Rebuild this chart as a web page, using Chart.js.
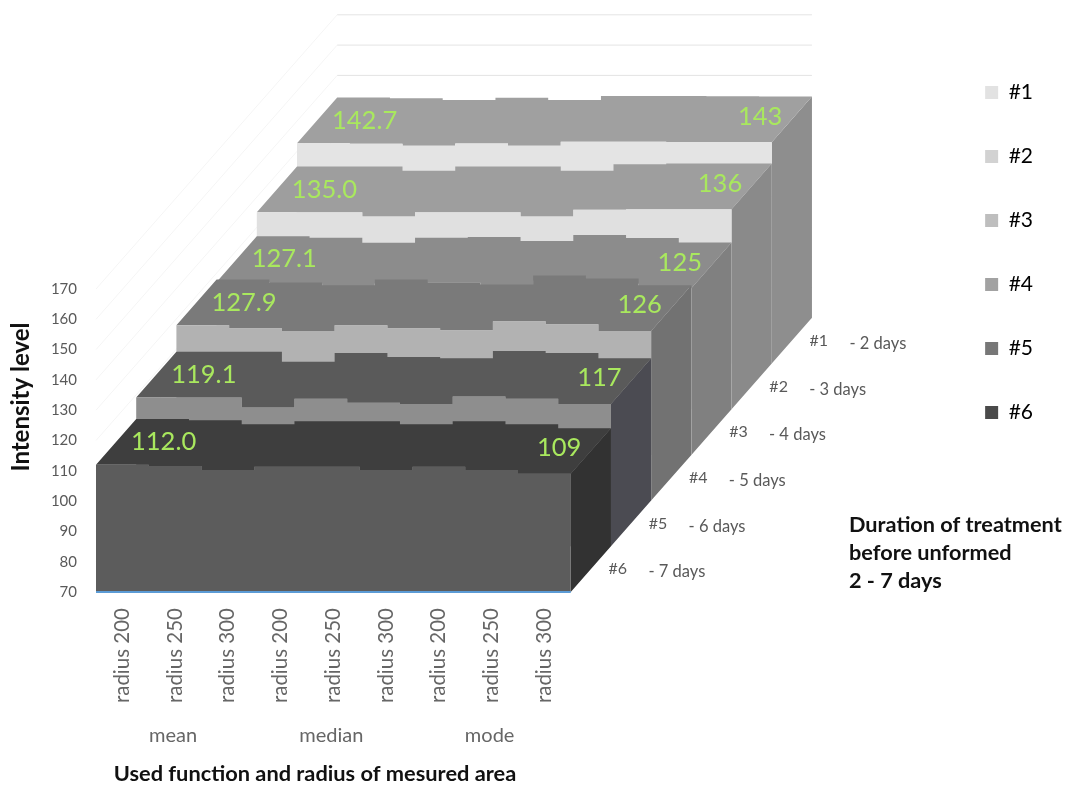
<!DOCTYPE html>
<html>
<head>
<meta charset="utf-8">
<title>Intensity level</title>
<script src="https://cdn.jsdelivr.net/npm/chart.js@4/dist/chart.umd.js"></script>
<style>
    body { margin: 0; background: #fff; }
    canvas { display: block; }
</style>
</head>
<body>
<canvas id="intensity-chart" width="1070" height="787"></canvas>
<script>
const categories = ['radius 200', 'radius 250', 'radius 300', 'radius 200', 'radius 250', 'radius 300', 'radius 200', 'radius 250', 'radius 300'];
const functionNames = ['mean', 'median', 'mode'];
const yTicks = [70, 80, 90, 100, 110, 120, 130, 140, 150, 160, 170];
const seriesNames = ['#1', '#2', '#3', '#4', '#5', '#6'];
const dayLabels = ['- 2 days', '- 3 days', '- 4 days', '- 5 days', '- 6 days', '- 7 days'];

const series1 = [142.7, 142.5, 141.9, 142.6, 141.9, 143.2, 143.2, 143.1, 143];
const series2 = [135.0, 135.0, 133.6, 135.0, 135.0, 133.6, 135.8, 136, 136];
const series3 = [127.1, 126.6, 124.9, 126.6, 126.8, 125.5, 127.5, 126.5, 125];
const series4 = [127.9, 126.9, 126.0, 127.9, 126.9, 126.2, 129.2, 128.2, 126];
const series5 = [119.1, 119.1, 115.8, 118.7, 117.4, 117.0, 119.4, 118.7, 117];
const series6 = [112.0, 111.6, 110.3, 111.3, 111.3, 110.3, 111.3, 110.3, 109];
const allSeries = [series1, series2, series3, series4, series5, series6];

const firstLabels = ['142.7', '135.0', '127.1', '127.9', '119.1', '112.0'];
const lastLabels = ['143', '136', '125', '126', '117', '109'];

const frontColors = ['#e4e4e4', '#e0e0e0', '#d8d8d8', '#b2b2b2', '#8e8e8e', '#5c5c5c'];
const topColors = ['#a0a0a0', '#9e9e9e', '#8c8c8c', '#7a7a7a', '#5a5a5a', '#3e3e3e'];
const sideColors = ['#8e8e8e', '#8a8a8a', '#808080', '#727272', '#4b4b52', '#323232'];
const legendColors = ['#e2e2e2', '#d2d2d2', '#bebebe', '#a2a2a2', '#777777', '#4a4a4a'];

// oblique projection: each series sits one slab deeper, shifted right and up
const CAT_PX = 52.75;
const UNIT_PX = 3.03;
const DEPTH_X = 40.2 / CAT_PX;
const DEPTH_Y = 45.7 / UNIT_PX;
const BASE = yTicks[0];
const DEPTHS = allSeries.length;

function project(cat, depth, value) {
    return { x: cat + depth * DEPTH_X, y: value + depth * DEPTH_Y };
}

// stepped top edge, one flat run per category
function stepEdge(values, depth) {
    const pts = [];
    values.forEach((v, i) => {
        pts.push(project(i, depth, v), project(i + 1, depth, v));
    });
    return pts;
}

function polygon(points, color) {
    return { data: points, backgroundColor: color, fill: 'shape', borderWidth: 0, showLine: true, pointRadius: 0 };
}

function wireLine(points, color, width) {
    return { data: points, borderColor: color, borderWidth: width, fill: false, showLine: true, pointRadius: 0, clip: false };
}

const datasets = [];

// back wall and side wall lines
yTicks.forEach(t => {
    datasets.push(wireLine([project(0, 0, t), project(0, DEPTHS, t)], '#f5f5f5', 1));
    datasets.push(wireLine([project(0, DEPTHS, t), project(categories.length, DEPTHS, t)], '#e4e4e4', 1));
});

// slabs from the back one to the front one
allSeries.forEach((values, s) => {
    const depth = DEPTHS - 1 - s;
    const n = categories.length;
    const last = values[n - 1];
    datasets.push(polygon([
        project(n, depth, last), project(n, depth + 1, last),
        project(n, depth + 1, BASE), project(n, depth, BASE)
    ], sideColors[s]));
    datasets.push(polygon(stepEdge(values, depth).concat(stepEdge(values, depth + 1).reverse()), topColors[s]));
    datasets.push(polygon([project(0, depth, BASE)].concat(stepEdge(values, depth), [project(n, depth, BASE)]), frontColors[s]));
});

// axis line along the front of the floor
datasets.push(wireLine([project(0, 0, BASE), project(categories.length, 0, BASE)], '#5b9bd5', 2));

datasets.forEach((d, i) => { d.order = datasets.length - i; });

const textPlugin = {
    id: 'chartText',
    afterDraw(chart) {
        const ctx = chart.ctx;
        const xs = chart.scales.x;
        const ys = chart.scales.y;
        const put = (text, x, y, font, color, align) => {
            ctx.font = font;
            ctx.fillStyle = color;
            ctx.textAlign = align || 'center';
            ctx.textBaseline = 'middle';
            ctx.fillText(text, x, y);
        };
        const px = p => [xs.getPixelForValue(p.x), ys.getPixelForValue(p.y)];

        ctx.save();
        // value labels lying on the slab tops
        allSeries.forEach((values, s) => {
            const depth = DEPTHS - 1 - s + 0.5;
            const a = px(project(0.92, depth, values[0]));
            const b = px(project(8.4, depth, values[values.length - 1]));
            put(firstLabels[s], a[0] - 1, a[1], '25.5px Lato', '#a9e85e');
            put(lastLabels[s], b[0], b[1] - 3, '25.5px Lato', '#a9e85e');

            // depth axis labels along the floor edge
            const f = px(project(categories.length, depth, BASE));
            put(seriesNames[s], f[0] + 27, f[1], '16px Lato', '#595959');
            put(dayLabels[s], f[0] + 86, f[1] + 3, '16.5px Lato', '#595959');
        });

        // function groups under the radius ticks
        functionNames.forEach((name, i) => {
            put(name, xs.getPixelForValue(1.5 + i * 3) - 2, 736, '20px Lato', '#666666');
        });

        put('Used function and radius of mesured area', 315, 774, 'bold 21.8px Lato', '#111111');
        put('Duration of treatment', 849, 525, 'bold 21.7px Lato', '#111111', 'left');
        put('before unformed', 849, 553, 'bold 21.7px Lato', '#111111', 'left');
        put('2 - 7 days', 849, 581, 'bold 21.7px Lato', '#111111', 'left');

        ctx.translate(21, 397);
        ctx.rotate(-Math.PI / 2);
        put('Intensity level', 0, 0, 'bold 24px Lato', '#111111');
        ctx.restore();
    }
};

new Chart(document.getElementById('intensity-chart').getContext('2d'), {
    type: 'scatter',
    data: { datasets: datasets },
    plugins: [textPlugin],
    options: {
        responsive: false,
        animation: false,
        events: [],
        layout: { padding: { top: 39, right: 27 } },
        plugins: {
            tooltip: { enabled: false },
            legend: {
                position: 'right',
                align: 'start',
                labels: {
                    boxWidth: 13,
                    boxHeight: 13,
                    padding: 43,
                    color: '#595959',
                    font: { family: 'Lato', size: 21 },
                    generateLabels: () => seriesNames.map((name, i) => ({
                        text: name,
                        fillStyle: legendColors[i],
                        strokeStyle: legendColors[i],
                        lineWidth: 0,
                        hidden: false,
                        datasetIndex: 0
                    }))
                }
            }
        },
        scales: {
            x: {
                type: 'linear',
                bounds: 'data',
                min: 0,
                afterDataLimits(scale) { scale.max = scale.width / CAT_PX; },
                afterBuildTicks(scale) { scale.ticks = categories.map((_, i) => ({ value: i + 0.5 })); },
                afterFit(scale) { scale.height = 195; },
                grid: { display: false },
                border: { display: false },
                ticks: {
                    autoSkip: false,
                    minRotation: 90,
                    maxRotation: 90,
                    padding: 8,
                    color: '#666666',
                    font: { family: 'Lato', size: 20.5 },
                    callback: (value, index) => categories[index]
                }
            },
            y: {
                type: 'linear',
                bounds: 'data',
                min: BASE,
                max: BASE + 553 / UNIT_PX,
                afterBuildTicks(scale) { scale.ticks = yTicks.map(t => ({ value: t })); },
                afterFit(scale) { scale.width = 96; },
                grid: { display: false },
                border: { display: false },
                ticks: {
                    padding: 11,
                    color: '#595959',
                    font: { family: 'Lato', size: 15 }
                }
            }
        }
    }
});
</script>
</body>
</html>
